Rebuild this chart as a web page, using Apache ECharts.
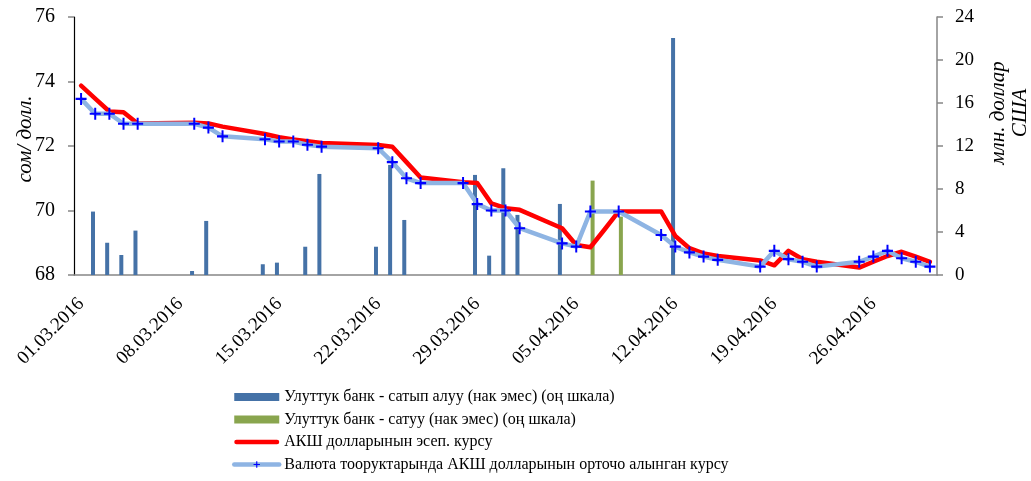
<!DOCTYPE html>
<html>
<head>
<meta charset="utf-8">
<script src="https://cdn.jsdelivr.net/npm/echarts@6/dist/echarts.min.js"></script>
<style>
html,body{margin:0;padding:0;background:#fff;}
#chart{width:1031px;height:481px;}
</style>
</head>
<body>
<div id="chart"></div>
<script>
const dates = [
 '01.03.2016','02.03.2016','03.03.2016','04.03.2016','05.03.2016','06.03.2016','07.03.2016',
 '08.03.2016','09.03.2016','10.03.2016','11.03.2016','12.03.2016','13.03.2016','14.03.2016',
 '15.03.2016','16.03.2016','17.03.2016','18.03.2016','19.03.2016','20.03.2016','21.03.2016',
 '22.03.2016','23.03.2016','24.03.2016','25.03.2016','26.03.2016','27.03.2016','28.03.2016',
 '29.03.2016','30.03.2016','31.03.2016','01.04.2016','02.04.2016','03.04.2016','04.04.2016',
 '05.04.2016','06.04.2016','07.04.2016','08.04.2016','09.04.2016','10.04.2016','11.04.2016',
 '12.04.2016','13.04.2016','14.04.2016','15.04.2016','16.04.2016','17.04.2016','18.04.2016',
 '19.04.2016','20.04.2016','21.04.2016','22.04.2016','23.04.2016','24.04.2016','25.04.2016',
 '26.04.2016','27.04.2016','28.04.2016','29.04.2016','30.04.2016'
];
const N = null;
// Official USD rate (left axis)
const officialRate = [
 73.87,73.47,73.07,73.05,72.70,N,N,
 N,72.72,72.70,72.60,N,N,72.37,
 72.27,72.20,72.15,72.09,N,N,N,
 72.03,71.98,71.50,71.02,N,N,70.88,
 70.85,70.22,70.07,70.02,N,N,69.45,
 68.93,68.86,69.41,69.97,N,N,69.97,
 69.21,68.83,68.67,68.59,N,N,68.45,
 68.30,68.75,68.49,68.41,N,N,68.23,
 68.41,68.59,68.72,68.57,68.41
];
// Weighted average market rate (left axis)
const marketRate = [
 73.46,73.00,73.00,72.69,72.69,N,N,
 N,72.69,72.57,72.30,N,N,72.21,
 72.14,72.14,72.04,71.98,N,N,N,
 71.93,71.50,71.00,70.85,N,N,70.85,
 70.20,70.00,70.00,69.45,N,N,68.98,
 68.88,69.97,N,69.97,N,N,69.24,
 68.88,68.70,68.57,68.47,N,N,68.26,
 68.75,68.49,68.41,68.26,N,N,68.41,
 68.57,68.75,68.52,68.41,68.26
];
// National bank purchases (right axis, mln USD)
const nbPurchase = [
 N,5.9,3.0,1.86,4.13,N,N,
 N,0.37,5.03,N,N,N,1.0,
 1.15,N,2.63,9.4,N,N,N,
 2.63,10.24,5.12,N,N,N,N,
 9.31,1.8,9.93,5.59,N,N,6.61,
 N,N,N,N,N,N,N,
 22.04,N,N,N,N,N,N,
 N,N,N,N,N,N,N,
 N,N,N,N,N
];
// National bank sales (right axis, mln USD)
const nbSale = [
 N,N,N,N,N,N,N,
 N,N,N,N,N,N,N,
 N,N,N,N,N,N,N,
 N,N,N,N,N,N,N,
 N,N,N,N,N,N,N,
 N,8.78,N,5.43,N,N,N,
 N,N,N,N,N,N,N,
 N,N,N,N,N,N,N,
 N,N,N,N,N
];
const leftTicks = {min:68, max:76, interval:2};
const rightTicks = {min:0, max:24, interval:4};
const seriesNames = [
 'Улуттук банк - сатып алуу (нак эмес) (оң шкала)',
 'Улуттук банк - сатуу (нак эмес) (оң шкала)',
 'АКШ долларынын эсеп. курсу',
 'Валюта тооруктарында АКШ долларынын орточо алынган курсу'
];
const leftName = 'сом/ долл.';
const rightName = 'млн. доллар\nСША';

const FONT = '"Liberation Serif","Times New Roman",serif';
const plus = 'path://M4.1,0 H5.9 V4.1 H10 V5.9 H5.9 V10 H4.1 V5.9 H0 V4.1 H4.1 Z';
const redIcon = 'path://M2.25,0 H42.75 A2.25,2.25 0 0 1 42.75,4.5 H2.25 A2.25,2.25 0 0 1 2.25,0 Z';

const chart = echarts.init(document.getElementById('chart'), null, {renderer:'canvas'});
chart.setOption({
  animation:false,
  backgroundColor:'#ffffff',
  textStyle:{fontFamily:FONT},
  grid:{left:74, right:94, top:17, bottom:206, containLabel:false},
  legend:{
    orient:'vertical', left:232, top:389, padding:0, height:92,
    itemWidth:45, itemHeight:8, itemGap:6.5,
    textStyle:{fontFamily:FONT, fontSize:16, color:'#000', lineHeight:16},
    data:[
      {name:seriesNames[0], icon:'rect'},
      {name:seriesNames[1], icon:'rect'},
      {name:seriesNames[2], icon:redIcon},
      {name:seriesNames[3], lineStyle:{width:4.5, cap:'round'}}
    ]
  },
  xAxis:{
    type:'category', data:dates, boundaryGap:true,
    axisLine:{lineStyle:{color:'#868686', width:1.5}},
    axisTick:{interval:6, length:6, lineStyle:{color:'#868686', width:1.5}},
    axisLabel:{interval:6, rotate:45, fontSize:19, color:'#000', fontFamily:FONT, margin:26}
  },
  yAxis:[
    {type:'value', min:leftTicks.min, max:leftTicks.max, interval:leftTicks.interval,
     axisLine:{show:true, lineStyle:{color:'#000', width:1.2}},
     axisTick:{show:true, length:6, lineStyle:{color:'#868686', width:1.5}},
     splitLine:{show:false},
     axisLabel:{fontSize:20, color:'#000', fontFamily:FONT, margin:19}},
    {type:'value', min:rightTicks.min, max:rightTicks.max, interval:rightTicks.interval, position:'right',
     axisLine:{show:true, lineStyle:{color:'#868686', width:1.5}},
     axisTick:{show:true, length:6, lineStyle:{color:'#868686', width:1.5}},
     splitLine:{show:false},
     axisLabel:{fontSize:19, color:'#000', fontFamily:FONT, margin:18}}
  ],
  graphic:[
    {type:'text', x:25, y:139, rotation:Math.PI/2,
     style:{text:leftName, font:'italic 21px '+FONT, fill:'#000', textAlign:'center', textVerticalAlign:'middle'}},
    {type:'text', x:1009, y:113, rotation:Math.PI/2,
     style:{text:rightName, font:'italic 21px '+FONT, fill:'#000', textAlign:'center', textVerticalAlign:'middle', lineHeight:22}}
  ],
  series:[
    {name:seriesNames[0], type:'bar', yAxisIndex:1, data:nbPurchase, barWidth:4, barGap:'10%',
     itemStyle:{color:'#4572A7'}, z:1},
    {name:seriesNames[1], type:'bar', yAxisIndex:1, data:nbSale, barWidth:4, barGap:'10%',
     itemStyle:{color:'#89A54E'}, z:1},
    {name:seriesNames[2], type:'line', yAxisIndex:0, data:officialRate, connectNulls:true,
     symbol:'none', showSymbol:false,
     lineStyle:{color:'#FF0000', width:4.5, cap:'round', join:'round'}, itemStyle:{color:'#FF0000'}, z:3},
    {name:seriesNames[3], type:'line', yAxisIndex:0, data:marketRate, connectNulls:true,
     symbol:plus, symbolSize:[11,12], showSymbol:true, showAllSymbol:true,
     lineStyle:{color:'#8EB4E3', width:4.5, join:'round'}, itemStyle:{color:'#0000FF'}, z:4}
  ]
});
</script>
</body>
</html>
